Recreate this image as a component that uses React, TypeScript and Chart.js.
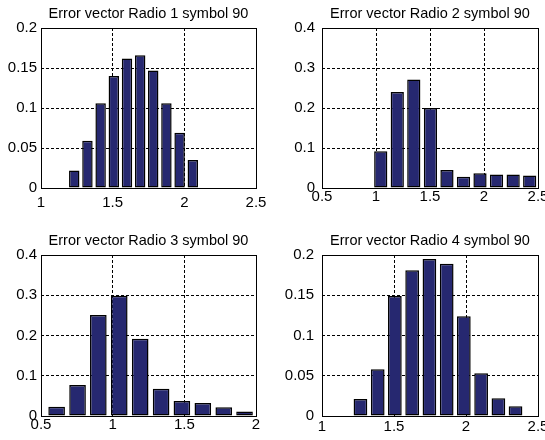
import React, { useEffect, useRef } from 'react';
import { Chart, registerables } from 'chart.js';

Chart.register(...registerables);

// ---- data ----
const titles = [
  'Error vector Radio 1 symbol 90',
  'Error vector Radio 2 symbol 90',
  'Error vector Radio 3 symbol 90',
  'Error vector Radio 4 symbol 90',
];

const radio1Centers = [1.232, 1.324, 1.416, 1.508, 1.6, 1.692, 1.783, 1.875, 1.967, 2.059];
const radio1Values = [0.022, 0.059, 0.106, 0.14, 0.162, 0.166, 0.147, 0.106, 0.069, 0.035];

const radio2Centers = [1.044, 1.197, 1.35, 1.504, 1.657, 1.81, 1.963, 2.116, 2.27, 2.423];
const radio2Values = [0.092, 0.24, 0.271, 0.2, 0.045, 0.028, 0.037, 0.034, 0.034, 0.031];

const radio3Centers = [0.609, 0.755, 0.9, 1.046, 1.192, 1.338, 1.483, 1.629, 1.775, 1.92];
const radio3Values = [0.023, 0.077, 0.251, 0.299, 0.192, 0.068, 0.037, 0.032, 0.022, 0.011];

const radio4Centers = [1.267, 1.387, 1.506, 1.626, 1.746, 1.866, 1.985, 2.105, 2.225, 2.344];
const radio4Values = [0.021, 0.058, 0.149, 0.181, 0.195, 0.189, 0.124, 0.053, 0.022, 0.012];

const xRanges = [
  [1, 2.5],
  [0.5, 2.5],
  [0.5, 2],
  [1, 2.5],
];
const xSteps = [0.5, 0.5, 0.5, 0.5];
const yMaxes = [0.2, 0.4, 0.4, 0.2];
const ySteps = [0.05, 0.1, 0.1, 0.05];

const centers = [radio1Centers, radio2Centers, radio3Centers, radio4Centers];
const values = [radio1Values, radio2Values, radio3Values, radio4Values];

// ---- layout / style ----
const FONT = "'Liberation Sans', Arial, sans-serif";
const BAR_COLOR = 'rgb(38,40,112)';
const FONT_SIZE = 15;
const TITLE_SIZE = 14.5;

type PanelLayout = {
  left: number; top: number; w: number; h: number;
  yAxisW: number; rightPad: number; titleTop: number; titleBottom: number;
  xAxisH: number; yPad: number; xPad: number;
};

const layouts: PanelLayout[] = [
  { left: 0, top: 0, w: 272, h: 220, yAxisW: 41, rightPad: 16, titleTop: 7, titleBottom: 6.5, xAxisH: 32, yPad: 4, xPad: 6 },
  { left: 272, top: 0, w: 273, h: 220, yAxisW: 50, rightPad: 7, titleTop: 7, titleBottom: 6.5, xAxisH: 32, yPad: 7, xPad: 0 },
  { left: 0, top: 220, w: 272, h: 220, yAxisW: 41, rightPad: 16, titleTop: 14, titleBottom: 6.5, xAxisH: 24, yPad: 4, xPad: 0 },
  { left: 272, top: 220, w: 273, h: 220, yAxisW: 50, rightPad: 7, titleTop: 14, titleBottom: 6.5, xAxisH: 24, yPad: 8, xPad: 2 },
];

const fmt = (v: number | string) => String(Math.round(Number(v) * 1000) / 1000);

const boxPlugin = {
  id: 'boxFrame',
  afterDraw(chart: any) {
    const { ctx, chartArea } = chart;
    const l = Math.round(chartArea.left) + 0.5;
    const t = Math.round(chartArea.top) + 0.5;
    const r = Math.round(chartArea.right) + 0.5;
    const b = Math.round(chartArea.bottom) + 0.5;
    ctx.save();
    ctx.strokeStyle = '#000';
    ctx.lineWidth = 1;
    ctx.setLineDash([]);
    ctx.strokeRect(l, t, r - l, b - t);
    ctx.restore();
  },
};

function Panel({ idx }: { idx: number }) {
  const ref = useRef<HTMLCanvasElement | null>(null);
  const L = layouts[idx];
  useEffect(() => {
    if (!ref.current) return;
    const data = centers[idx].map((x, i) => ({ x, y: values[idx][i] }));
    const chart = new Chart(ref.current, {
      type: 'bar',
      data: {
        datasets: [
          {
            data,
            backgroundColor: BAR_COLOR,
            borderColor: '#000',
            borderWidth: 1.5,
            borderSkipped: false,
            barPercentage: 0.8,
            categoryPercentage: 1,
          } as any,
        ],
      },
      options: {
        responsive: false,
        animation: false,
        events: [],
        layout: { padding: { left: 0, right: L.rightPad, top: 0, bottom: 0 } },
        plugins: {
          legend: { display: false },
          tooltip: { enabled: false },
          title: {
            display: true,
            text: titles[idx],
            fullSize: false,
            color: '#000',
            font: { family: FONT, size: TITLE_SIZE, weight: 'normal', lineHeight: 1 },
            padding: { top: L.titleTop, bottom: L.titleBottom },
          },
        },
        scales: {
          x: {
            type: 'linear',
            min: xRanges[idx][0],
            max: xRanges[idx][1],
            offset: false,
            grid: { display: true, color: '#000', lineWidth: 1, drawTicks: false, offset: false },
            border: { display: false, dash: [3, 2] },
            ticks: {
              stepSize: xSteps[idx],
              padding: L.xPad,
              color: '#000',
              font: { family: FONT, size: FONT_SIZE },
              maxRotation: 0,
              autoSkip: false,
              callback: (v: any) => fmt(v),
            },
            afterFit: (s: any) => {
              s.height = L.xAxisH;
              s.paddingLeft = 0;
              s.paddingRight = 0;
            },
          },
          y: {
            type: 'linear',
            min: 0,
            max: yMaxes[idx],
            grid: { display: true, color: '#000', lineWidth: 1, drawTicks: false },
            border: { display: false, dash: [3, 2] },
            ticks: {
              stepSize: ySteps[idx],
              padding: L.yPad,
              color: '#000',
              font: { family: FONT, size: FONT_SIZE },
              autoSkip: false,
              callback: (v: any) => fmt(v),
            },
            afterFit: (s: any) => {
              s.width = L.yAxisW;
              s.paddingTop = 0;
              s.paddingBottom = 0;
            },
          },
        },
      } as any,
      plugins: [boxPlugin],
    });
    return () => chart.destroy();
  }, [idx]);
  return (
    <canvas
      ref={ref}
      width={L.w}
      height={L.h}
      style={{ position: 'absolute', left: L.left, top: L.top, width: L.w, height: L.h }}
    />
  );
}

export default function App() {
  return (
    <div style={{ position: 'absolute', left: 0, top: 0, width: 545, height: 440, background: '#fff', overflow: 'hidden' }}>
      {[0, 1, 2, 3].map((i) => (
        <Panel key={i} idx={i} />
      ))}
    </div>
  );
}
